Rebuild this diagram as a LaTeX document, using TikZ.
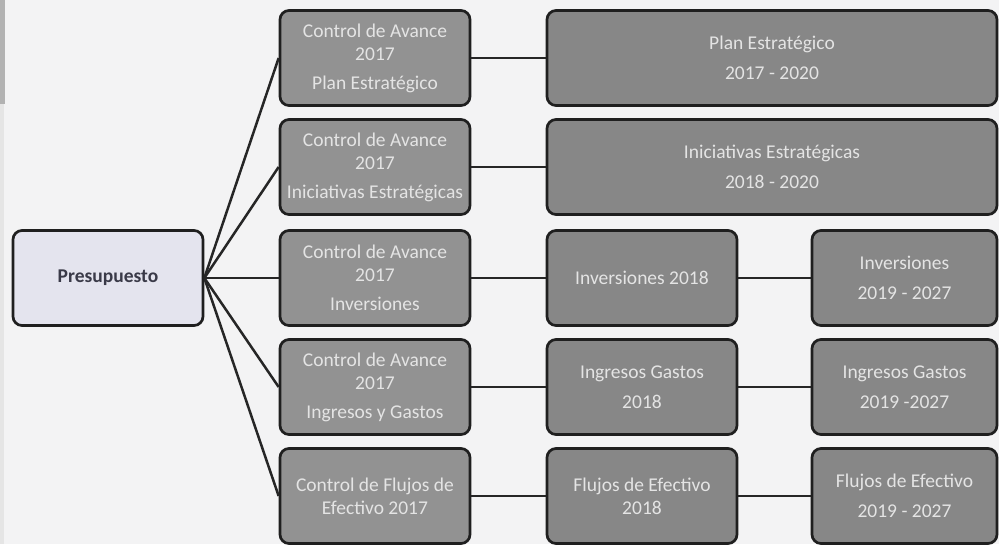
\documentclass[tikz,border=0pt]{standalone}
\usepackage{fontspec}
\setmainfont{Carlito}
\begin{document}
\begin{tikzpicture}[x=1pt,y=-1pt,
  box/.style={rectangle, rounded corners=9pt, line width=2.7pt, draw=black!88,
    inner sep=0pt, align=center, minimum height=95pt,
    font=\fontsize{19.5}{23}\selectfont},
  rootbox/.style={box, fill=rootfill, text=roottext, minimum width=190pt, font=\fontsize{19.5}{23}\selectfont\bfseries},
  ctrlbox/.style={box, fill=ctrlfill, text=boxtext, minimum width=190pt},
  planbox/.style={box, fill=planfill, text=boxtext},
  link/.style={line width=2.5pt, draw=black!85}
]
\definecolor{bgcol}{HTML}{F3F3F4}
\definecolor{rootfill}{HTML}{E4E4EE}
\definecolor{roottext}{HTML}{3A3A48}
\definecolor{ctrlfill}{HTML}{929292}
\definecolor{planfill}{HTML}{878787}
\definecolor{boxtext}{HTML}{E4E4E4}

% page background and the scanned edge on the left
\fill[bgcol] (0,0) rectangle (999,544);
\fill[black!30] (0,0) rectangle (5,104);
\fill[black!10] (0,104) rectangle (4,544);
\useasboundingbox (0,0) rectangle (999,544);

% root
\node[rootbox] (pres) at (108,278) {Presupuesto};

% 2017 progress controls
\node[ctrlbox] (c1) at (375,58)  {Control de Avance\\2017\\[6pt]Plan Estratégico};
\node[ctrlbox] (c2) at (375,167) {Control de Avance\\2017\\[6pt]Iniciativas Estratégicas};
\node[ctrlbox] (c3) at (375,278) {Control de Avance\\2017\\[6pt]Inversiones};
\node[ctrlbox] (c4) at (375,387) {Control de Avance\\2017\\[6pt]Ingresos y Gastos};
\node[ctrlbox] (c5) at (375,496) {Control de Flujos de\\Efectivo 2017};

% plans
\node[planbox, minimum width=450pt] (p1) at (772,58)  {Plan Estratégico\\[7pt]2017 - 2020};
\node[planbox, minimum width=450pt] (p2) at (772,167) {Iniciativas Estratégicas\\[7pt]2018 - 2020};
\node[planbox, minimum width=190pt] (p3) at (642,278) {Inversiones 2018};
\node[planbox, minimum width=190pt] (p4) at (642,387) {Ingresos Gastos\\[7pt]2018};
\node[planbox, minimum width=190pt] (p5) at (642,496) {Flujos de Efectivo\\2018};

\node[planbox, minimum width=185pt] (q3) at (904.5,278) {Inversiones\\[7pt]2019 - 2027};
\node[planbox, minimum width=185pt] (q4) at (904.5,387) {Ingresos Gastos\\[7pt]2019 -2027};
\node[planbox, minimum width=185pt] (q5) at (904.5,496) {Flujos de Efectivo\\[7pt]2019 - 2027};

% connectors
\foreach \c in {c1,c2,c3,c4,c5} \draw[link] (pres.east) -- (\c.west);
\draw[link] (c1.east) -- (p1.west);
\draw[link] (c2.east) -- (p2.west);
\draw[link] (c3.east) -- (p3.west);
\draw[link] (c4.east) -- (p4.west);
\draw[link] (c5.east) -- (p5.west);
\draw[link] (p3.east) -- (q3.west);
\draw[link] (p4.east) -- (q4.west);
\draw[link] (p5.east) -- (q5.west);
\end{tikzpicture}
\end{document}
